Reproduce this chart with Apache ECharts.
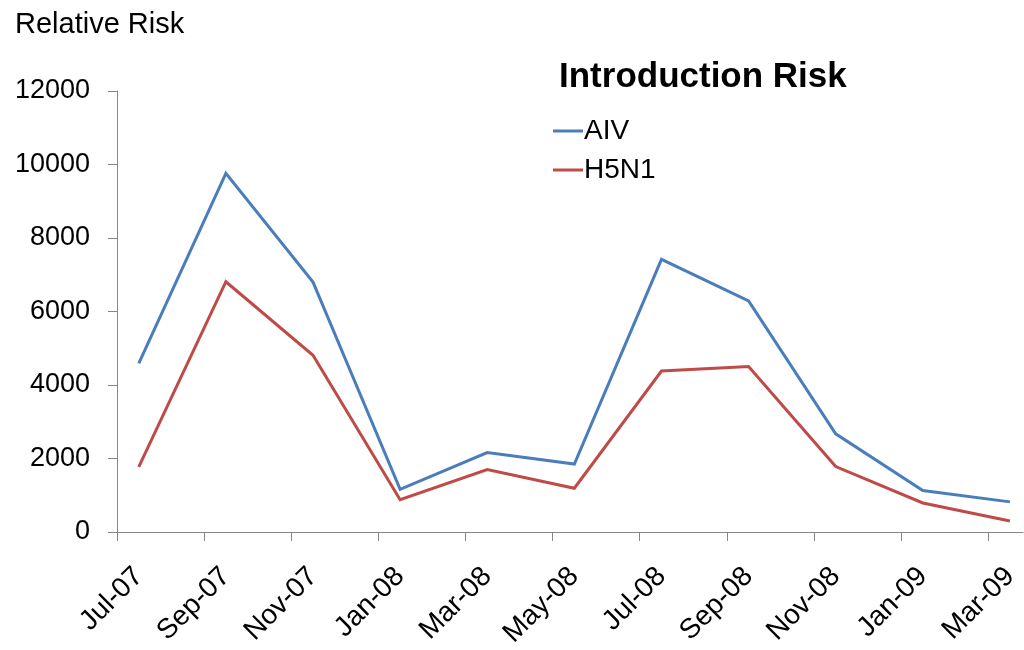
<!DOCTYPE html>
<html>
<head>
<meta charset="utf-8">
<script src="https://cdn.jsdelivr.net/npm/echarts@6/dist/echarts.min.js"></script>
<style>
  html, body { margin: 0; padding: 0; background: #ffffff; }
  #chart { width: 1024px; height: 650px; }
</style>
</head>
<body>
<div id="chart"></div>
<script>
// Sampling months (one reading every two months, taken mid-month)
const months = ['Jul-07', 'Sep-07', 'Nov-07', 'Jan-08', 'Mar-08', 'May-08',
                'Jul-08', 'Sep-08', 'Nov-08', 'Jan-09', 'Mar-09'];
// Relative introduction risk for all avian influenza viruses
const aiv = [4590, 9760, 6800, 1160, 2160, 1850, 7420, 6290, 2670, 1130, 820];
// Relative introduction risk for highly pathogenic H5N1
const h5n1 = [1770, 6810, 4810, 880, 1700, 1190, 4380, 4500, 1780, 790, 300];
// Y axis ticks
const yTicks = [0, 2000, 4000, 6000, 8000, 10000, 12000];

const MONTH_NAMES = ['Jan','Feb','Mar','Apr','May','Jun','Jul','Aug','Sep','Oct','Nov','Dec'];
// Month offset from the start of the axis (Jul-07)
function monthOffset(label) {
  const [m, y] = label.split('-');
  const total = (2000 + Number(y)) * 12 + MONTH_NAMES.indexOf(m);
  return total - (2007 * 12 + 6);
}
const tickPos = months.map(monthOffset);          // first day of each labelled month
const pointPos = tickPos.map(v => v + 0.5);       // mid-month sampling date
const labelByPos = {};
pointPos.forEach((p, i) => { labelByPos[p] = months[i]; });

const FONT = '"Liberation Sans", Arial, sans-serif';
const AXIS_COLOR = '#868686';

const chart = echarts.init(document.getElementById('chart'), null, { renderer: 'canvas' });
chart.setOption({
  backgroundColor: '#ffffff',
  animation: false,
  title: [
    {
      text: 'Introduction Risk',
      left: 554, top: 55,
      textStyle: { fontFamily: FONT, fontSize: 35, fontWeight: 'bold', color: '#000' }
    },
    {
      text: 'Relative Risk',
      left: 10, top: 5,
      textStyle: { fontFamily: FONT, fontSize: 29, fontWeight: 'normal', color: '#000' }
    }
  ],
  legend: {
    orient: 'vertical',
    left: 548, top: 112,
    itemWidth: 30, itemHeight: 3, itemGap: 11,
    icon: 'rect',
    textStyle: { fontFamily: FONT, fontSize: 28, color: '#000', padding: [0, 0, 0, -4] },
    data: ['AIV', 'H5N1']
  },
  grid: {
    left: 117, right: 1, top: 91, bottom: 118,
    containLabel: false,
    outerBoundsMode: 'none'
  },
  xAxis: {
    type: 'value',
    min: 0, max: 20.8,
    interval: 2,
    splitLine: { show: false },
    axisLine: { show: true, lineStyle: { color: AXIS_COLOR, width: 1 } },
    axisTick: {
      show: true, inside: false, length: 9,
      customValues: tickPos,
      lineStyle: { color: AXIS_COLOR, width: 1 }
    },
    axisLabel: {
      customValues: pointPos,
      rotate: 45,
      margin: 40,
      fontFamily: FONT, fontSize: 28, color: '#000',
      formatter: v => labelByPos[v] || ''
    }
  },
  yAxis: {
    type: 'value',
    min: 0, max: 12000, interval: 2000,
    splitLine: { show: false },
    axisLine: { show: true, lineStyle: { color: AXIS_COLOR, width: 1 } },
    axisTick: { show: true, inside: false, length: 9, lineStyle: { color: AXIS_COLOR, width: 1 } },
    axisLabel: {
      margin: 27,
      customValues: yTicks,
      fontFamily: FONT, fontSize: 27, color: '#000',
      formatter: v => String(v)
    }
  },
  series: [
    {
      name: 'AIV', type: 'line',
      data: pointPos.map((x, i) => [x, aiv[i]]),
      showSymbol: false, symbol: 'none',
      color: '#4A7EBB',
      lineStyle: { color: '#4A7EBB', width: 3, join: 'miter' }
    },
    {
      name: 'H5N1', type: 'line',
      data: pointPos.map((x, i) => [x, h5n1[i]]),
      showSymbol: false, symbol: 'none',
      color: '#BE4B48',
      lineStyle: { color: '#BE4B48', width: 3, join: 'miter' }
    }
  ]
});
</script>
</body>
</html>
